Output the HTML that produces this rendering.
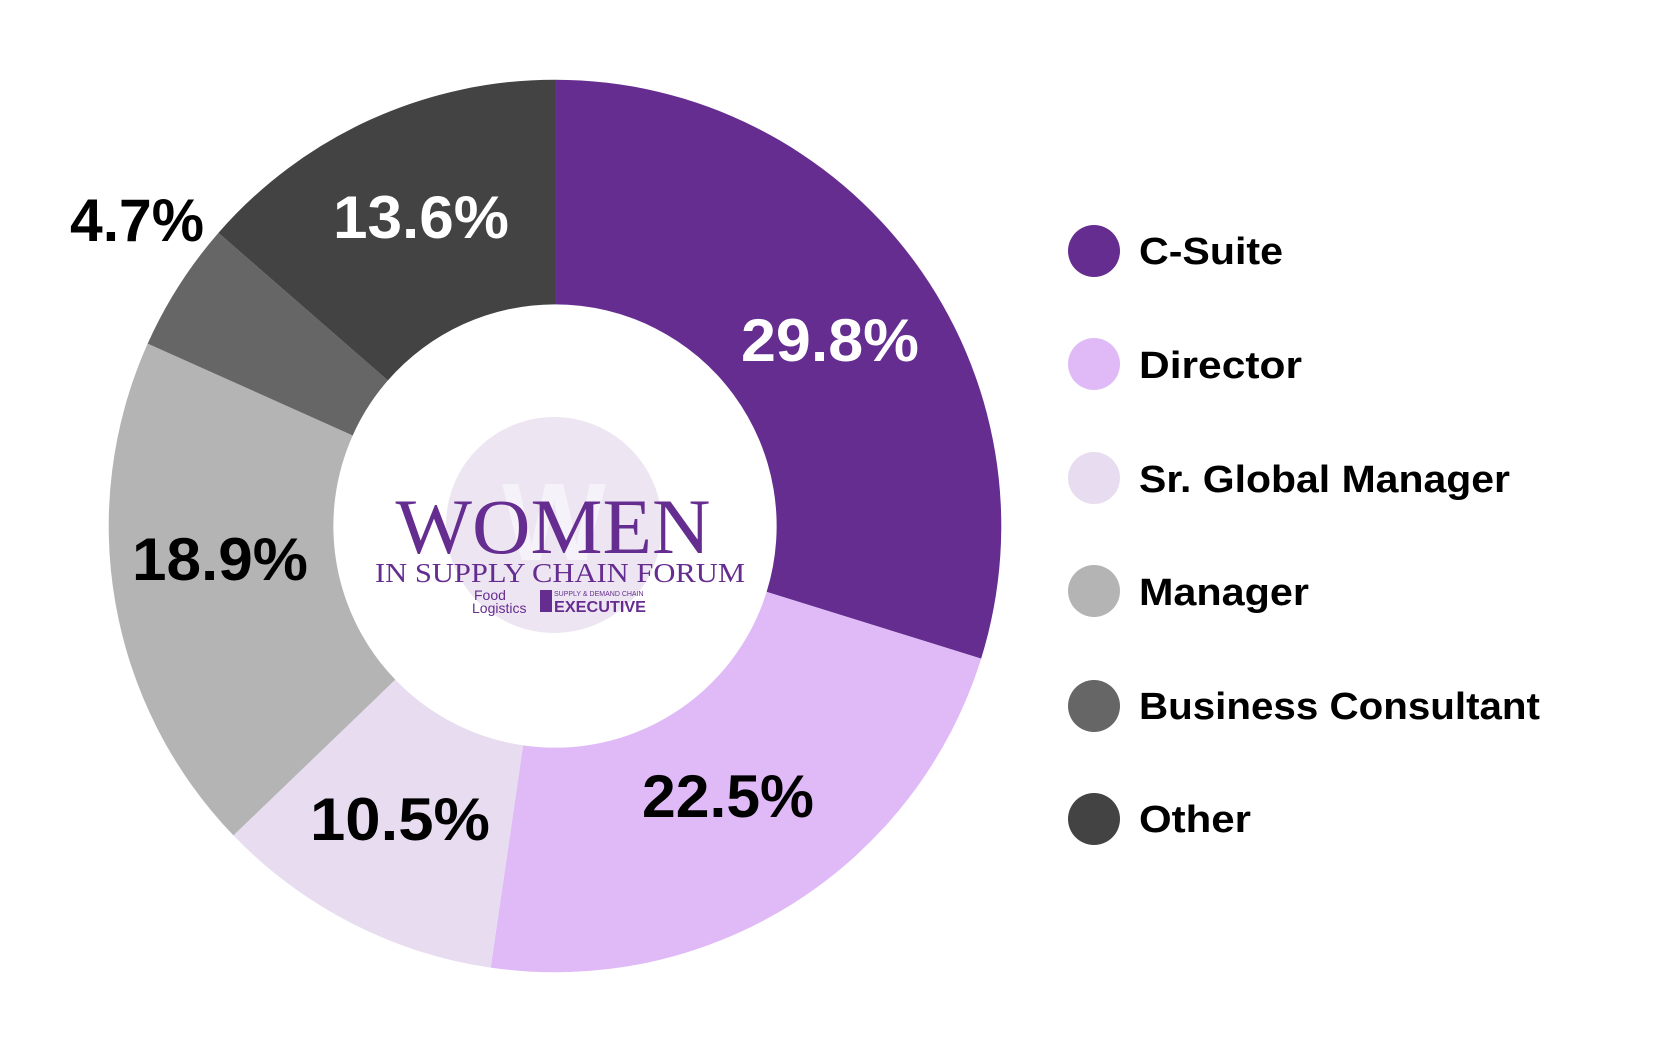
<!DOCTYPE html>
<html><head><meta charset="utf-8"><style>
html,body{margin:0;padding:0;background:#fff;}
svg{display:block;}
</style></head><body>
<svg width="1680" height="1050" viewBox="0 0 1680 1050" xmlns="http://www.w3.org/2000/svg">
<rect width="1680" height="1050" fill="#fff"/>
<g transform="translate(555,526) scale(0.994) translate(-557,-528)">
<path d="M557,79 A449,449 0 0 1 985.7,661.4 L769.9,594.3 A223,223 0 0 0 557,305 Z" fill="#652d90"/>
<path d="M985.7,661.4 A449,449 0 0 1 492.3,972.3 L524.9,748.7 A223,223 0 0 0 769.9,594.3 Z" fill="#dfbaf7"/>
<path d="M492.3,972.3 A449,449 0 0 1 233.5,839.3 L396.3,682.6 A223,223 0 0 0 524.9,748.7 Z" fill="#e8dcf0"/>
<path d="M233.5,839.3 A449,449 0 0 1 147.2,344.5 L353.5,436.9 A223,223 0 0 0 396.3,682.6 Z" fill="#b4b4b4"/>
<path d="M147.2,344.5 A449,449 0 0 1 218.4,233.1 L388.8,381.6 A223,223 0 0 0 353.5,436.9 Z" fill="#666666"/>
<path d="M218.4,233.1 A449,449 0 0 1 557,79 L557,305 A223,223 0 0 0 388.8,381.6 Z" fill="#434343"/>
</g>
<g font-family="Liberation Sans, sans-serif" font-weight="bold" font-size="60" text-anchor="middle">
<text x="830" y="361" fill="#fff" textLength="178" lengthAdjust="spacingAndGlyphs">29.8%</text>
<text x="728" y="817" fill="#000" textLength="172" lengthAdjust="spacingAndGlyphs">22.5%</text>
<text x="400" y="840" fill="#000" textLength="180" lengthAdjust="spacingAndGlyphs">10.5%</text>
<text x="220" y="580" fill="#000" textLength="176" lengthAdjust="spacingAndGlyphs">18.9%</text>
<text x="137" y="241" fill="#000" textLength="134" lengthAdjust="spacingAndGlyphs">4.7%</text>
<text x="421" y="238" fill="#fff" textLength="176" lengthAdjust="spacingAndGlyphs">13.6%</text>
</g>
<circle cx="554" cy="525" r="108" fill="#ede6f2"/>
<text x="554" y="560" font-family="Liberation Sans, sans-serif" font-weight="bold" font-size="110" fill="#f6f2f9" text-anchor="middle">W</text>
<text x="553" y="553" font-family="Liberation Serif, serif" font-size="78" fill="#652d90" text-anchor="middle" textLength="315" lengthAdjust="spacingAndGlyphs">WOMEN</text>
<text x="560" y="582" font-family="Liberation Serif, serif" font-size="27" fill="#652d90" text-anchor="middle" textLength="370" lengthAdjust="spacingAndGlyphs">IN SUPPLY CHAIN FORUM</text>
<text x="474" y="600" font-family="Liberation Sans, sans-serif" font-size="14" fill="#652d90">Food</text>
<text x="472" y="613" font-family="Liberation Sans, sans-serif" font-size="14" fill="#652d90">Logistics</text>
<rect x="540" y="590" width="12" height="22" fill="#652d90"/>
<text x="554" y="596" font-family="Liberation Sans, sans-serif" font-size="7" fill="#652d90">SUPPLY &amp; DEMAND CHAIN</text>
<text x="554" y="612" font-family="Liberation Sans, sans-serif" font-weight="bold" font-size="16" fill="#652d90" textLength="92" lengthAdjust="spacingAndGlyphs">EXECUTIVE</text>
<g font-family="Liberation Sans, sans-serif" font-weight="bold" font-size="38" fill="#000" transform="translate(-6,-2)">
<circle cx="1100" cy="253" r="26" fill="#652d90"/><text x="1145" y="266" textLength="144" lengthAdjust="spacingAndGlyphs">C-Suite</text>
<circle cx="1100" cy="366" r="26" fill="#dfbaf7"/><text x="1145" y="380" textLength="163" lengthAdjust="spacingAndGlyphs">Director</text>
<circle cx="1100" cy="480" r="26" fill="#e8dcf0"/><text x="1145" y="494" textLength="371" lengthAdjust="spacingAndGlyphs">Sr. Global Manager</text>
<circle cx="1100" cy="593" r="26" fill="#b4b4b4"/><text x="1145" y="607" textLength="170" lengthAdjust="spacingAndGlyphs">Manager</text>
<circle cx="1100" cy="708" r="26" fill="#666666"/><text x="1145" y="721" textLength="401" lengthAdjust="spacingAndGlyphs">Business Consultant</text>
<circle cx="1100" cy="821" r="26" fill="#434343"/><text x="1145" y="834" textLength="112" lengthAdjust="spacingAndGlyphs">Other</text>
</g>
</svg>
</body></html>
